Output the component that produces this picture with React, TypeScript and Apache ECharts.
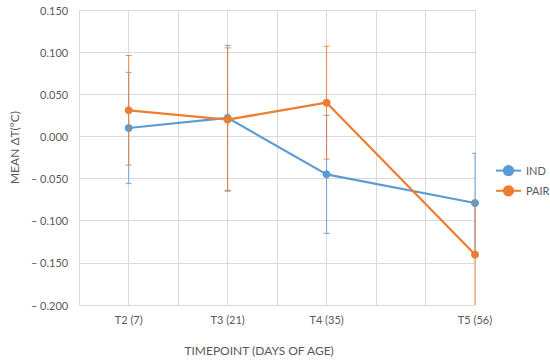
import React, { useEffect, useRef } from "react";
import * as echarts from "echarts";

const days = [7, 21, 35, 56];
const tickLabels: Record<number, string> = { 7: "T2 (7)", 21: "T3 (21)", 35: "T4 (35)", 56: "T5 (56)" };
const indMean = [0.010, 0.022, -0.045, -0.079];
const indErr = [0.066, 0.086, 0.070, 0.059];
const pairMean = [0.031, 0.020, 0.040, -0.140];
const pairErr = [0.065, 0.085, 0.067, 0.064];

const BLUE = "#5B9BD5";
const ORANGE = "#ED7D31";
const FONT = "Lato";

function errSeries(name: string, mean: number[], err: number[], color: string, z: number) {
  return {
    type: "custom",
    name: name + "_err",
    clip: true,
    z,
    silent: true,
    data: days.map((d, i) => [d, mean[i] - err[i], mean[i] + err[i]]),
    renderItem: (params: any, api: any) => {
      const x = api.value(0);
      const lo = api.coord([x, api.value(1)]);
      const hi = api.coord([x, api.value(2)]);
      const cap = 3;
      const style = { stroke: color, lineWidth: 1, opacity: 0.85 };
      return {
        type: "group",
        children: [
          { type: "line", shape: { x1: lo[0], y1: lo[1], x2: hi[0], y2: hi[1] }, style },
          { type: "line", shape: { x1: hi[0] - cap, y1: hi[1], x2: hi[0] + cap, y2: hi[1] }, style },
          { type: "line", shape: { x1: lo[0] - cap, y1: lo[1], x2: lo[0] + cap, y2: lo[1] }, style },
        ],
      };
    },
  };
}

export default function App() {
  const ref = useRef<HTMLDivElement>(null);
  useEffect(() => {
    const chart = echarts.init(ref.current!, null, { renderer: "svg" });
    chart.setOption({
      animation: false,
      textStyle: { fontFamily: FONT },
      grid: { left: 68, right: 75, top: 10, bottom: 54 },
      legend: {
        orient: "vertical",
        left: 495,
        top: 165,
        padding: 0,
        itemWidth: 25,
        itemHeight: 14,
        itemGap: 9,
        data: ["IND", "PAIR"],
        textStyle: { color: "#595959", fontSize: 11, fontFamily: FONT },
      },
      xAxis: {
        type: "value",
        min: 0,
        max: 56,
        interval: 7,
        name: "TIMEPOINT (DAYS OF AGE)",
        nameLocation: "middle",
        nameGap: 39,
        nameTextStyle: { color: "#595959", fontSize: 12, fontFamily: FONT, padding: [0, 36, 0, 0] },
        axisLine: { show: true, lineStyle: { color: "#D9D9D9" } },
        axisTick: { show: false },
        splitLine: { show: true, lineStyle: { color: "#D9D9D9" } },
        axisLabel: {
          color: "#595959",
          fontSize: 11,
          fontFamily: FONT,
          margin: 9,
          formatter: (v: number) => tickLabels[v] ?? "",
        },
      },
      yAxis: {
        type: "value",
        min: -0.2,
        max: 0.15,
        interval: 0.05,
        name: "MEAN ΔT(°C)",
        nameLocation: "middle",
        nameGap: 54,
        nameTextStyle: { color: "#595959", fontSize: 12, fontFamily: FONT, padding: [0, 0, 0, 20] },
        axisLine: { show: false },
        axisTick: { show: false },
        splitLine: { show: true, lineStyle: { color: "#D9D9D9" } },
        axisLabel: {
          color: "#595959",
          fontSize: 11,
          fontFamily: FONT,
          margin: 11,
          formatter: (v: number) => {
            const r = Math.round(v * 1000) / 1000;
            return r < 0 ? "– " + Math.abs(r).toFixed(3) : r.toFixed(3);
          },
        },
      },
      series: [
        errSeries("IND", indMean, indErr, BLUE, 1),
        {
          type: "line",
          name: "IND",
          z: 2,
          data: days.map((d, i) => [d, indMean[i]]),
          symbol: "circle",
          symbolSize: 8,
          lineStyle: { color: BLUE, width: 2.25 },
          itemStyle: { color: BLUE },
        },
        errSeries("PAIR", pairMean, pairErr, ORANGE, 3),
        {
          type: "line",
          name: "PAIR",
          z: 4,
          data: days.map((d, i) => [d, pairMean[i]]),
          symbol: "circle",
          symbolSize: 8,
          lineStyle: { color: ORANGE, width: 2.25 },
          itemStyle: { color: ORANGE },
        },
      ],
    });
    return () => chart.dispose();
  }, []);
  return <div ref={ref} style={{ width: 550, height: 361, position: "absolute", left: 0, top: 0 }} />;
}
